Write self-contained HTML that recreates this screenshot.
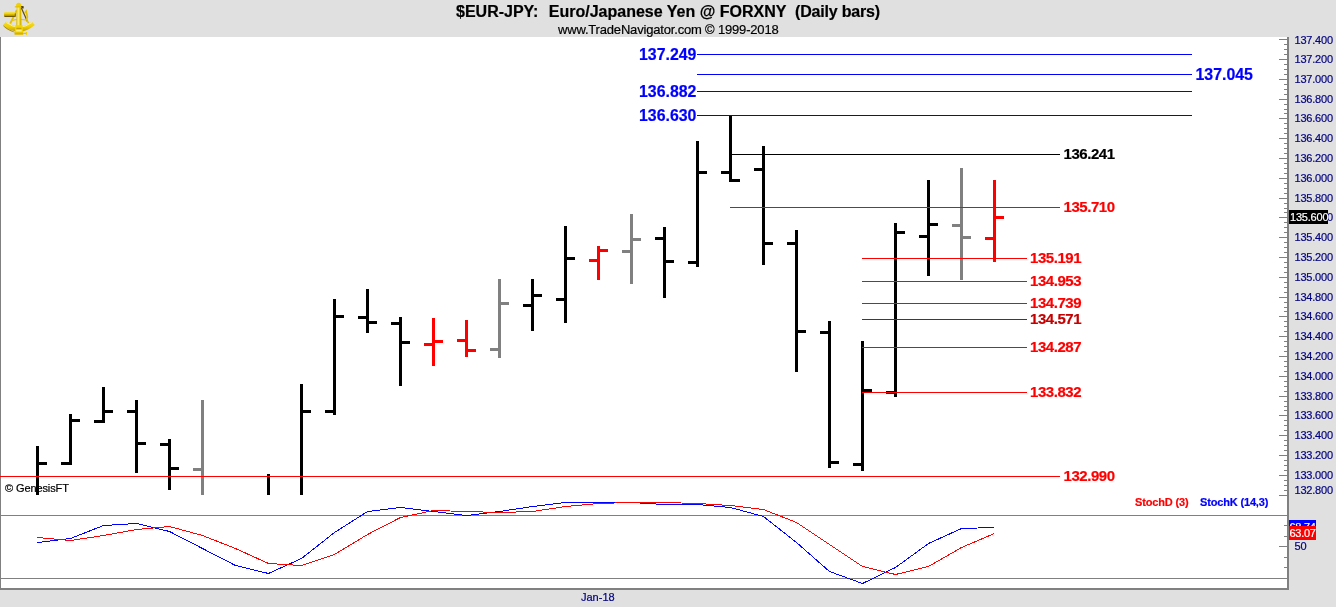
<!DOCTYPE html>
<html><head><meta charset="utf-8"><title>$EUR-JPY</title>
<style>
html,body{margin:0;padding:0}
body{width:1336px;height:607px;position:relative;overflow:hidden;background:#e0e0e0;font-family:"Liberation Sans",Arial,sans-serif}
#plot{position:absolute;left:1px;top:37px;width:1286px;height:551px;background:#fff}
i{position:absolute;display:block}
div{position:absolute;white-space:pre;line-height:1;-webkit-text-stroke:0.2px}
.ax{left:1294.5px;font-size:11px;letter-spacing:-0.2px;color:#000080;height:12px;line-height:12px}
.big{font-weight:bold;font-size:15.9px;color:#00f;height:18px;line-height:18px}
.mid{font-weight:bold;font-size:15px;letter-spacing:-0.45px;height:16px;line-height:16px}
.sm{font-weight:bold;font-size:11px;letter-spacing:-0.16px;height:12px;line-height:12px}
svg{position:absolute;left:0;top:0}
</style></head><body>
<div id="plot"></div>
<i style="left:0;top:37px;width:1px;height:553px;background:#808080"></i>
<i style="left:0;top:588px;width:1289px;height:2px;background:#808080"></i>
<i style="left:1287px;top:37px;width:2px;height:553px;background:#808080"></i>
<i style="left:1px;top:515px;width:1286px;height:1px;background:#808080"></i>
<i style="left:1px;top:578px;width:1286px;height:1px;background:#808080"></i>
<!-- header -->
<div id="title" style="left:456px;top:3px;font-weight:bold;font-size:16px;height:18px;line-height:18px;color:#000">$EUR-JPY:<span style="margin-left:1.5px">  Euro/Japanese Yen @ FORXNY  </span><span style="letter-spacing:-0.18px">(Daily bars)</span></div>
<div id="sub" style="left:558px;top:23px;font-size:13px;letter-spacing:-0.18px;height:14px;line-height:14px;color:#000">www.TradeNavigator.com © 1999-2018</div>
<svg width="40" height="37" viewBox="0 0 40 37" style="left:0;top:0">
<defs>
<linearGradient id="g1" x1="0" y1="0" x2="0" y2="1"><stop offset="0" stop-color="#f6e25a"/><stop offset="0.35" stop-color="#f2d400"/><stop offset="0.75" stop-color="#b89400"/><stop offset="1" stop-color="#4a3a00"/></linearGradient>
<linearGradient id="g2" x1="0" y1="0" x2="1" y2="0"><stop offset="0" stop-color="#d8b400"/><stop offset="0.4" stop-color="#fff07a"/><stop offset="0.75" stop-color="#e8c800"/><stop offset="1" stop-color="#b89400"/></linearGradient>
<linearGradient id="g3" x1="0" y1="0" x2="0" y2="1"><stop offset="0" stop-color="#f4dc30"/><stop offset="0.5" stop-color="#f0d000"/><stop offset="1" stop-color="#c09c00"/></linearGradient>
</defs>
<path d="M16.8 10.2 L10.2 23.6" stroke="#e4c000" stroke-width="1.9" fill="none"/>
<path d="M11.6 20.6 Q19 18.2 27.4 20.4" stroke="#e8c810" stroke-width="1.4" fill="none"/>
<path d="M21.4 8 L27.4 21.6" stroke="#5e4c14" stroke-width="1.2" fill="none"/>
<path d="M24.8 13 L26.2 11.2 L27.4 17 L26.6 19.6 L28.6 23.2" stroke="#e4c000" stroke-width="1.6" fill="none"/>
<path d="M3 25.3 L6 21.6 Q19 31 32 21.8 L34.8 25 Q19 38.5 3 25.3 Z" fill="url(#g3)"/>
<path d="M3 25.3 Q8 29.6 14.6 31.9 L14.6 32.5 Q7 30.2 3.3 26 Z" fill="#a08400"/>
<path d="M6.4 22.6 Q19 31.6 31.8 22.6" stroke="#fff6a0" stroke-width="0.9" fill="none"/>
<rect x="4" y="11.9" width="11.4" height="5" rx="1.2" fill="url(#g1)"/>
<rect x="14.8" y="13.4" width="1" height="3.4" fill="#7a6200"/>
<path d="M16.7 7 L21 7 L21.4 26 L16.2 26 Z" fill="url(#g2)"/>
<path d="M16 5.8 Q16 3 18.7 2.7 Q21.4 3 21.4 5.8 L21.4 7.2 L16 7.2 Z" fill="#f0d000"/>
<path d="M14.8 6.2 L23.6 6.2 L23.6 7.4 L14.8 7.4 Z" fill="#e4c200"/>
<path d="M21 6 L23.6 6.2 L23.6 8.4 L21.6 8.2 Z" fill="#4a3c0c"/>
<path d="M15.4 25.2 L22.6 25.2 L23.2 34.4 L14.6 34.4 Z" fill="#f2d400"/>
<path d="M14.6 32.6 L23.2 32.6 L23.2 34.6 L14.6 34.6 Z" fill="#d4b000"/>
<rect x="16.4" y="27.8" width="5" height="1" fill="#b89400"/>
<rect x="16.2" y="30.2" width="5.4" height="1.2" fill="#fff6a0"/>
<rect x="23.2" y="32.8" width="3" height="1.2" fill="#e0c000"/>
<rect x="25.8" y="32" width="1.3" height="2.8" fill="#f0d000"/>
</svg>
<i style="left:1279px;top:39px;width:8px;height:1px;background:#808080"></i>
<i style="left:1284px;top:44px;width:3px;height:1px;background:#808080"></i>
<i style="left:1284px;top:49px;width:3px;height:1px;background:#808080"></i>
<i style="left:1284px;top:54px;width:3px;height:1px;background:#808080"></i>
<i style="left:1279px;top:59px;width:8px;height:1px;background:#808080"></i>
<i style="left:1284px;top:64px;width:3px;height:1px;background:#808080"></i>
<i style="left:1284px;top:69px;width:3px;height:1px;background:#808080"></i>
<i style="left:1284px;top:74px;width:3px;height:1px;background:#808080"></i>
<i style="left:1279px;top:79px;width:8px;height:1px;background:#808080"></i>
<i style="left:1284px;top:84px;width:3px;height:1px;background:#808080"></i>
<i style="left:1284px;top:89px;width:3px;height:1px;background:#808080"></i>
<i style="left:1284px;top:94px;width:3px;height:1px;background:#808080"></i>
<i style="left:1279px;top:99px;width:8px;height:1px;background:#808080"></i>
<i style="left:1284px;top:104px;width:3px;height:1px;background:#808080"></i>
<i style="left:1284px;top:109px;width:3px;height:1px;background:#808080"></i>
<i style="left:1284px;top:113px;width:3px;height:1px;background:#808080"></i>
<i style="left:1279px;top:118px;width:8px;height:1px;background:#808080"></i>
<i style="left:1284px;top:123px;width:3px;height:1px;background:#808080"></i>
<i style="left:1284px;top:128px;width:3px;height:1px;background:#808080"></i>
<i style="left:1284px;top:133px;width:3px;height:1px;background:#808080"></i>
<i style="left:1279px;top:138px;width:8px;height:1px;background:#808080"></i>
<i style="left:1284px;top:143px;width:3px;height:1px;background:#808080"></i>
<i style="left:1284px;top:148px;width:3px;height:1px;background:#808080"></i>
<i style="left:1284px;top:153px;width:3px;height:1px;background:#808080"></i>
<i style="left:1279px;top:158px;width:8px;height:1px;background:#808080"></i>
<i style="left:1284px;top:163px;width:3px;height:1px;background:#808080"></i>
<i style="left:1284px;top:168px;width:3px;height:1px;background:#808080"></i>
<i style="left:1284px;top:173px;width:3px;height:1px;background:#808080"></i>
<i style="left:1279px;top:178px;width:8px;height:1px;background:#808080"></i>
<i style="left:1284px;top:183px;width:3px;height:1px;background:#808080"></i>
<i style="left:1284px;top:188px;width:3px;height:1px;background:#808080"></i>
<i style="left:1284px;top:193px;width:3px;height:1px;background:#808080"></i>
<i style="left:1279px;top:198px;width:8px;height:1px;background:#808080"></i>
<i style="left:1284px;top:203px;width:3px;height:1px;background:#808080"></i>
<i style="left:1284px;top:208px;width:3px;height:1px;background:#808080"></i>
<i style="left:1284px;top:212px;width:3px;height:1px;background:#808080"></i>
<i style="left:1279px;top:217px;width:8px;height:1px;background:#808080"></i>
<i style="left:1284px;top:222px;width:3px;height:1px;background:#808080"></i>
<i style="left:1284px;top:227px;width:3px;height:1px;background:#808080"></i>
<i style="left:1284px;top:232px;width:3px;height:1px;background:#808080"></i>
<i style="left:1279px;top:237px;width:8px;height:1px;background:#808080"></i>
<i style="left:1284px;top:242px;width:3px;height:1px;background:#808080"></i>
<i style="left:1284px;top:247px;width:3px;height:1px;background:#808080"></i>
<i style="left:1284px;top:252px;width:3px;height:1px;background:#808080"></i>
<i style="left:1279px;top:257px;width:8px;height:1px;background:#808080"></i>
<i style="left:1284px;top:262px;width:3px;height:1px;background:#808080"></i>
<i style="left:1284px;top:267px;width:3px;height:1px;background:#808080"></i>
<i style="left:1284px;top:272px;width:3px;height:1px;background:#808080"></i>
<i style="left:1279px;top:277px;width:8px;height:1px;background:#808080"></i>
<i style="left:1284px;top:282px;width:3px;height:1px;background:#808080"></i>
<i style="left:1284px;top:287px;width:3px;height:1px;background:#808080"></i>
<i style="left:1284px;top:292px;width:3px;height:1px;background:#808080"></i>
<i style="left:1279px;top:297px;width:8px;height:1px;background:#808080"></i>
<i style="left:1284px;top:302px;width:3px;height:1px;background:#808080"></i>
<i style="left:1284px;top:307px;width:3px;height:1px;background:#808080"></i>
<i style="left:1284px;top:311px;width:3px;height:1px;background:#808080"></i>
<i style="left:1279px;top:316px;width:8px;height:1px;background:#808080"></i>
<i style="left:1284px;top:321px;width:3px;height:1px;background:#808080"></i>
<i style="left:1284px;top:326px;width:3px;height:1px;background:#808080"></i>
<i style="left:1284px;top:331px;width:3px;height:1px;background:#808080"></i>
<i style="left:1279px;top:336px;width:8px;height:1px;background:#808080"></i>
<i style="left:1284px;top:341px;width:3px;height:1px;background:#808080"></i>
<i style="left:1284px;top:346px;width:3px;height:1px;background:#808080"></i>
<i style="left:1284px;top:351px;width:3px;height:1px;background:#808080"></i>
<i style="left:1279px;top:356px;width:8px;height:1px;background:#808080"></i>
<i style="left:1284px;top:361px;width:3px;height:1px;background:#808080"></i>
<i style="left:1284px;top:366px;width:3px;height:1px;background:#808080"></i>
<i style="left:1284px;top:371px;width:3px;height:1px;background:#808080"></i>
<i style="left:1279px;top:376px;width:8px;height:1px;background:#808080"></i>
<i style="left:1284px;top:381px;width:3px;height:1px;background:#808080"></i>
<i style="left:1284px;top:386px;width:3px;height:1px;background:#808080"></i>
<i style="left:1284px;top:391px;width:3px;height:1px;background:#808080"></i>
<i style="left:1279px;top:396px;width:8px;height:1px;background:#808080"></i>
<i style="left:1284px;top:401px;width:3px;height:1px;background:#808080"></i>
<i style="left:1284px;top:406px;width:3px;height:1px;background:#808080"></i>
<i style="left:1284px;top:410px;width:3px;height:1px;background:#808080"></i>
<i style="left:1279px;top:415px;width:8px;height:1px;background:#808080"></i>
<i style="left:1284px;top:420px;width:3px;height:1px;background:#808080"></i>
<i style="left:1284px;top:425px;width:3px;height:1px;background:#808080"></i>
<i style="left:1284px;top:430px;width:3px;height:1px;background:#808080"></i>
<i style="left:1279px;top:435px;width:8px;height:1px;background:#808080"></i>
<i style="left:1284px;top:440px;width:3px;height:1px;background:#808080"></i>
<i style="left:1284px;top:445px;width:3px;height:1px;background:#808080"></i>
<i style="left:1284px;top:450px;width:3px;height:1px;background:#808080"></i>
<i style="left:1279px;top:455px;width:8px;height:1px;background:#808080"></i>
<i style="left:1284px;top:460px;width:3px;height:1px;background:#808080"></i>
<i style="left:1284px;top:465px;width:3px;height:1px;background:#808080"></i>
<i style="left:1284px;top:470px;width:3px;height:1px;background:#808080"></i>
<i style="left:1279px;top:475px;width:8px;height:1px;background:#808080"></i>
<i style="left:1284px;top:480px;width:3px;height:1px;background:#808080"></i>
<i style="left:1284px;top:485px;width:3px;height:1px;background:#808080"></i>
<i style="left:1284px;top:490px;width:3px;height:1px;background:#808080"></i>
<i style="left:1279px;top:495px;width:8px;height:1px;background:#808080"></i>
<i style="left:1279px;top:546px;width:8px;height:1px;background:#808080"></i>
<i style="left:1284px;top:525px;width:3px;height:1px;background:#808080"></i>
<i style="left:1284px;top:536px;width:3px;height:1px;background:#808080"></i>
<i style="left:1284px;top:557px;width:3px;height:1px;background:#808080"></i>
<i style="left:1284px;top:567px;width:3px;height:1px;background:#808080"></i>
<div class="ax" style="top:34px">137.400</div>
<div class="ax" style="top:53px">137.200</div>
<div class="ax" style="top:73px">137.000</div>
<div class="ax" style="top:93px">136.800</div>
<div class="ax" style="top:112px">136.600</div>
<div class="ax" style="top:132px">136.400</div>
<div class="ax" style="top:152px">136.200</div>
<div class="ax" style="top:172px">136.000</div>
<div class="ax" style="top:192px">135.800</div>
<div class="ax" style="top:211px">135.600</div>
<div class="ax" style="top:231px">135.400</div>
<div class="ax" style="top:251px">135.200</div>
<div class="ax" style="top:271px">135.000</div>
<div class="ax" style="top:291px">134.800</div>
<div class="ax" style="top:310px">134.600</div>
<div class="ax" style="top:330px">134.400</div>
<div class="ax" style="top:350px">134.200</div>
<div class="ax" style="top:370px">134.000</div>
<div class="ax" style="top:390px">133.800</div>
<div class="ax" style="top:409px">133.600</div>
<div class="ax" style="top:429px">133.400</div>
<div class="ax" style="top:449px">133.200</div>
<div class="ax" style="top:469px">133.000</div>
<div class="ax" style="top:484px">132.800</div>
<i style="left:36px;top:446px;width:3px;height:49px;background:#000"></i>
<i style="left:39px;top:462px;width:8px;height:3px;background:#000"></i>
<i style="left:69px;top:414px;width:3px;height:51px;background:#000"></i>
<i style="left:61px;top:462px;width:8px;height:3px;background:#000"></i>
<i style="left:72px;top:419px;width:8px;height:3px;background:#000"></i>
<i style="left:102px;top:387px;width:3px;height:36px;background:#000"></i>
<i style="left:94px;top:420px;width:8px;height:3px;background:#000"></i>
<i style="left:105px;top:410px;width:8px;height:3px;background:#000"></i>
<i style="left:135px;top:400px;width:3px;height:73px;background:#000"></i>
<i style="left:127px;top:410px;width:8px;height:3px;background:#000"></i>
<i style="left:138px;top:442px;width:8px;height:3px;background:#000"></i>
<i style="left:168px;top:439px;width:3px;height:51px;background:#000"></i>
<i style="left:160px;top:443px;width:8px;height:3px;background:#000"></i>
<i style="left:171px;top:467px;width:8px;height:3px;background:#000"></i>
<i style="left:201px;top:400px;width:3px;height:95px;background:#808080"></i>
<i style="left:193px;top:468px;width:8px;height:3px;background:#808080"></i>
<i style="left:267px;top:474px;width:3px;height:21px;background:#000"></i>
<i style="left:300px;top:384px;width:3px;height:111px;background:#000"></i>
<i style="left:303px;top:410px;width:8px;height:3px;background:#000"></i>
<i style="left:333px;top:299px;width:3px;height:116px;background:#000"></i>
<i style="left:325px;top:410px;width:8px;height:3px;background:#000"></i>
<i style="left:336px;top:315px;width:8px;height:3px;background:#000"></i>
<i style="left:366px;top:289px;width:3px;height:44px;background:#000"></i>
<i style="left:358px;top:316px;width:8px;height:3px;background:#000"></i>
<i style="left:369px;top:321px;width:8px;height:3px;background:#000"></i>
<i style="left:399px;top:317px;width:3px;height:69px;background:#000"></i>
<i style="left:391px;top:322px;width:8px;height:3px;background:#000"></i>
<i style="left:402px;top:341px;width:8px;height:3px;background:#000"></i>
<i style="left:432px;top:318px;width:3px;height:48px;background:#f00"></i>
<i style="left:424px;top:343px;width:8px;height:3px;background:#f00"></i>
<i style="left:435px;top:340px;width:8px;height:3px;background:#f00"></i>
<i style="left:465px;top:320px;width:3px;height:37px;background:#f00"></i>
<i style="left:457px;top:339px;width:8px;height:3px;background:#f00"></i>
<i style="left:468px;top:349px;width:8px;height:3px;background:#f00"></i>
<i style="left:498px;top:279px;width:3px;height:79px;background:#808080"></i>
<i style="left:490px;top:348px;width:8px;height:3px;background:#808080"></i>
<i style="left:501px;top:302px;width:8px;height:3px;background:#808080"></i>
<i style="left:531px;top:279px;width:3px;height:52px;background:#000"></i>
<i style="left:523px;top:304px;width:8px;height:3px;background:#000"></i>
<i style="left:534px;top:294px;width:8px;height:3px;background:#000"></i>
<i style="left:564px;top:226px;width:3px;height:97px;background:#000"></i>
<i style="left:556px;top:298px;width:8px;height:3px;background:#000"></i>
<i style="left:567px;top:257px;width:8px;height:3px;background:#000"></i>
<i style="left:597px;top:246px;width:3px;height:34px;background:#f00"></i>
<i style="left:589px;top:259px;width:8px;height:3px;background:#f00"></i>
<i style="left:600px;top:249px;width:8px;height:3px;background:#f00"></i>
<i style="left:630px;top:214px;width:3px;height:70px;background:#808080"></i>
<i style="left:622px;top:250px;width:8px;height:3px;background:#808080"></i>
<i style="left:633px;top:238px;width:8px;height:3px;background:#808080"></i>
<i style="left:663px;top:227px;width:3px;height:71px;background:#000"></i>
<i style="left:655px;top:237px;width:8px;height:3px;background:#000"></i>
<i style="left:666px;top:260px;width:8px;height:3px;background:#000"></i>
<i style="left:696px;top:141px;width:3px;height:126px;background:#000"></i>
<i style="left:688px;top:261px;width:8px;height:3px;background:#000"></i>
<i style="left:699px;top:171px;width:8px;height:3px;background:#000"></i>
<i style="left:729px;top:115px;width:3px;height:67px;background:#000"></i>
<i style="left:721px;top:171px;width:8px;height:3px;background:#000"></i>
<i style="left:732px;top:179px;width:8px;height:3px;background:#000"></i>
<i style="left:762px;top:146px;width:3px;height:119px;background:#000"></i>
<i style="left:754px;top:168px;width:8px;height:3px;background:#000"></i>
<i style="left:765px;top:242px;width:8px;height:3px;background:#000"></i>
<i style="left:795px;top:230px;width:3px;height:142px;background:#000"></i>
<i style="left:787px;top:242px;width:8px;height:3px;background:#000"></i>
<i style="left:798px;top:330px;width:8px;height:3px;background:#000"></i>
<i style="left:828px;top:321px;width:3px;height:147px;background:#000"></i>
<i style="left:820px;top:331px;width:8px;height:3px;background:#000"></i>
<i style="left:831px;top:461px;width:8px;height:3px;background:#000"></i>
<i style="left:861px;top:341px;width:3px;height:130px;background:#000"></i>
<i style="left:853px;top:463px;width:8px;height:3px;background:#000"></i>
<i style="left:864px;top:389px;width:8px;height:3px;background:#000"></i>
<i style="left:894px;top:223px;width:3px;height:174px;background:#000"></i>
<i style="left:886px;top:391px;width:8px;height:3px;background:#000"></i>
<i style="left:897px;top:231px;width:8px;height:3px;background:#000"></i>
<i style="left:927px;top:180px;width:3px;height:96px;background:#000"></i>
<i style="left:919px;top:235px;width:8px;height:3px;background:#000"></i>
<i style="left:930px;top:223px;width:8px;height:3px;background:#000"></i>
<i style="left:960px;top:168px;width:3px;height:112px;background:#808080"></i>
<i style="left:952px;top:224px;width:8px;height:3px;background:#808080"></i>
<i style="left:963px;top:236px;width:8px;height:3px;background:#808080"></i>
<i style="left:993px;top:180px;width:3px;height:82px;background:#f00"></i>
<i style="left:985px;top:237px;width:8px;height:3px;background:#f00"></i>
<i style="left:996px;top:216px;width:8px;height:3px;background:#f00"></i>
<i style="left:697px;top:54px;width:495px;height:1px;background:#00f"></i>
<i style="left:697px;top:74px;width:495px;height:1px;background:#00f"></i>
<i style="left:697px;top:91px;width:495px;height:1px;background:#00f"></i>
<i style="left:697px;top:115px;width:495px;height:1px;background:#00f"></i>
<i style="left:732px;top:154px;width:328px;height:1px;background:#000"></i>
<i style="left:730px;top:207px;width:330px;height:1px;background:#f00"></i>
<i style="left:862px;top:258px;width:165px;height:1px;background:#f00"></i>
<i style="left:862px;top:281px;width:165px;height:1px;background:#f00"></i>
<i style="left:862px;top:303px;width:165px;height:1px;background:#f00"></i>
<i style="left:862px;top:319px;width:165px;height:1px;background:#c40000"></i>
<i style="left:862px;top:347px;width:165px;height:1px;background:#f00"></i>
<i style="left:862px;top:392px;width:165px;height:1px;background:#f00"></i>
<i style="left:0px;top:476px;width:1060px;height:1px;background:#f00"></i>
<svg width="1336" height="607" shape-rendering="crispEdges" fill="none" stroke-width="1">
<polyline stroke="#00f" points="37.5,542.5 70.5,538.5 103.5,525.5 136.5,523.5 169.5,531.5 202.5,548.5 235.5,565.5 268.5,573.5 301.5,558.5 334.5,532.5 367.5,511.5 400.5,507.5 433.5,511.5 466.5,515.5 499.5,511.5 532.5,506.5 565.5,502.5 598.5,502.5 631.5,502.5 664.5,504.5 697.5,504.5 730.5,507.5 763.5,516.5 796.5,542.5 829.5,571.5 862.5,583.5 895.5,567.5 928.5,543.5 961.5,528.5 994.5,527.5"/>
<polyline stroke="#f00" points="37.5,537.5 70.5,540.5 103.5,535.5 136.5,529.5 169.5,526.5 202.5,535.5 235.5,548.5 268.5,563.5 301.5,565.5 334.5,554.5 367.5,534.5 400.5,517.5 433.5,510.5 466.5,511.5 499.5,512.5 532.5,511.5 565.5,506.5 598.5,503.5 631.5,502.5 664.5,502.5 697.5,503.5 730.5,505.5 763.5,509.5 796.5,522.5 829.5,544.5 862.5,566.5 895.5,574.5 928.5,566.5 961.5,547.5 994.5,533.5"/>
</svg>
<div class="big" style="left:639px;top:46px">137.249</div>
<div class="big" style="left:639px;top:83px">136.882</div>
<div class="big" style="left:639px;top:107px">136.630</div>
<div class="big" style="left:1195.5px;top:66px">137.045</div>
<div class="mid" style="left:1063.5px;top:146px;color:#000">136.241</div>
<div class="mid" style="left:1063.5px;top:199px;color:#f00">135.710</div>
<div class="mid" style="left:1030px;top:250px;color:#f00">135.191</div>
<div class="mid" style="left:1030px;top:273px;color:#f00">134.953</div>
<div class="mid" style="left:1030px;top:295px;color:#f00">134.739</div>
<div class="mid" style="left:1030px;top:311px;color:#c40000">134.571</div>
<div class="mid" style="left:1030px;top:339px;color:#f00">134.287</div>
<div class="mid" style="left:1030px;top:384px;color:#f00">133.832</div>
<div class="mid" style="left:1063.5px;top:468px;color:#f00">132.990</div>
<div class="sm" style="left:1135px;top:496px;color:#f00">StochD (3)</div>
<div class="sm" style="left:1200px;top:496px;color:#00f">StochK (14,3)</div>
<div style="left:5px;top:482px;font-size:11px;letter-spacing:-0.1px;height:12px;line-height:12px;color:#000">© GenesisFT</div>
<div style="left:581px;top:591px;font-size:11px;height:12px;line-height:12px;color:#000080">Jan-18</div>
<!-- price box -->
<i style="left:1289px;top:210px;width:39px;height:14px;background:#000"></i>
<div style="left:1290px;top:211px;font-size:11px;letter-spacing:-0.2px;height:12px;line-height:12px;color:#fff">135.600</div>
<i style="left:1289px;top:520px;width:27px;height:14px;background:#00f"></i>
<div style="left:1289.5px;top:521px;font-size:11px;letter-spacing:-0.3px;height:12px;line-height:12px;color:#fff">68.74</div>
<i style="left:1289px;top:526px;width:27px;height:14px;background:#f00"></i>
<div style="left:1289.5px;top:527px;font-size:11px;letter-spacing:-0.3px;height:12px;line-height:12px;color:#fff">63.07</div>
<div style="left:1294.5px;top:540px;font-size:11px;letter-spacing:-0.2px;height:12px;line-height:12px;color:#000080">50</div>
</body></html>
